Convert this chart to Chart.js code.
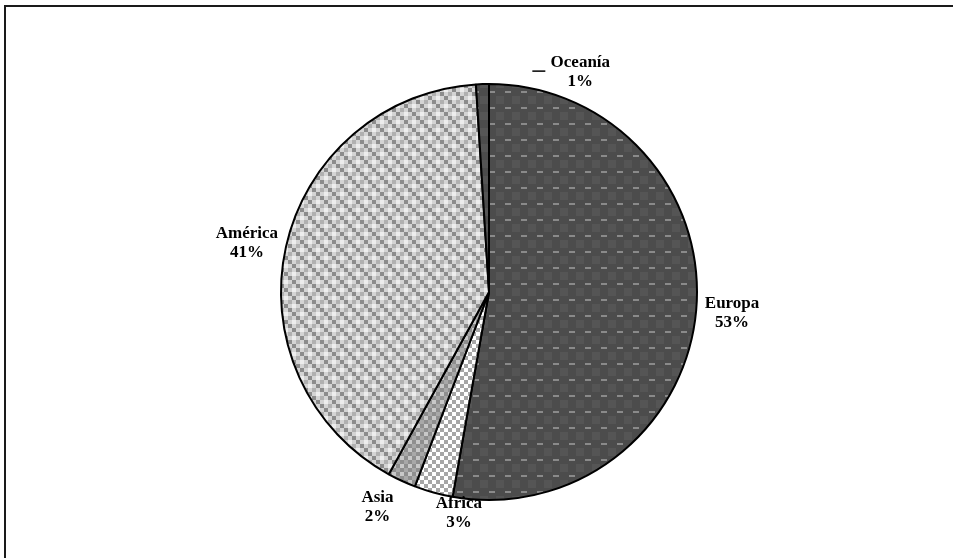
<!DOCTYPE html>
<html><head><meta charset="utf-8">
<script src="https://cdn.jsdelivr.net/npm/chart.js@4.4.0/dist/chart.umd.min.js"></script>
<style>
html,body{margin:0;padding:0;background:#fff;width:953px;height:558px;overflow:hidden;}
#frame{position:absolute;left:4px;top:5px;width:1000px;height:600px;border-left:2px solid #1a1a1a;border-top:2px solid #1a1a1a;}
canvas{position:absolute;left:0;top:0;}
</style></head><body>
<div id="frame"></div>
<canvas id="c" width="953" height="558"></canvas>
<script>
// ---- data ----
const categories = ['Europa', 'Africa', 'Asia', 'América', 'Oceanía'];
const shares = [52.8, 3.0, 2.2, 41.0, 1.0];

// ---- label layout (style) ----
const labelGap = 36;
const labelNudgeX = [0, 35, -9, -4, 99];
const labelNudgeY = [0, -14, -6, 4, 24];

function tile(size, draw) {
  const c = document.createElement('canvas');
  c.width = size; c.height = size;
  const g = c.getContext('2d');
  draw(g);
  return document.getElementById('c').getContext('2d').createPattern(c, 'repeat');
}
function cells(g, grid, colors, cs) {
  for (let r = 0; r < grid.length; r++)
    for (let k = 0; k < grid[r].length; k++) {
      g.fillStyle = colors[grid[r][k]];
      g.fillRect(k * cs, r * cs, cs, cs);
    }
}
const patEuropa = tile(16, g => {
  g.fillStyle = '#4c4c4c'; g.fillRect(0, 0, 16, 16);
  g.fillStyle = '#555555'; g.fillRect(0, 0, 8, 8);
  g.fillStyle = '#8a8a8a'; g.fillRect(9, 11, 6, 2);
});
const patAmerica = tile(16, g => cells(g, [
  [0, 1, 0, 3],
  [3, 0, 2, 0],
  [0, 3, 0, 1],
  [2, 0, 3, 0]
], ['#d4d4d4', '#ededed', '#b0b0b0', '#8c8c8c'], 4));
const patAfrica = tile(8, g => cells(g, [
  [0, 1],
  [1, 0]
], ['#ffffff', '#a6a6a6'], 4));
const patAsia = tile(8, g => cells(g, [
  [0, 1],
  [1, 2]
], ['#c8c8c8', '#8e8e8e', '#a8a8a8'], 4));
const patOceania = patEuropa;

const labelPlugin = {
  id: 'pieLabels',
  afterDatasetsDraw(chart) {
    const ctx = chart.ctx;
    const meta = chart.getDatasetMeta(0);
    ctx.save();
    ctx.font = 'bold 17px "Liberation Serif", "Times New Roman", serif';
    ctx.fillStyle = '#000';
    ctx.textAlign = 'center';
    ctx.textBaseline = 'middle';
    meta.data.forEach((arc, i) => {
      const p = arc.getProps(['x', 'y', 'startAngle', 'endAngle', 'outerRadius'], true);
      const mid = (p.startAngle + p.endAngle) / 2;
      const ax = p.x + Math.cos(mid) * (p.outerRadius + labelGap) + labelNudgeX[i];
      const ay = p.y + Math.sin(mid) * (p.outerRadius + labelGap) + labelNudgeY[i];
      ctx.fillText(categories[i], ax, ay - 9.5);
      ctx.fillText(Math.round(shares[i]) + '%', ax, ay + 9.5);
      if (shares[i] < 1.5) {
        ctx.strokeStyle = '#000';
        ctx.lineWidth = 1.5;
        ctx.beginPath();
        ctx.moveTo(ax - 48, ay - 1);
        ctx.lineTo(ax - 35, ay - 1);
        ctx.stroke();
      }
    });
    ctx.restore();
  }
};

new Chart(document.getElementById('c'), {
  type: 'pie',
  data: {
    labels: categories,
    datasets: [{
      data: shares,
      backgroundColor: [patEuropa, patAfrica, patAsia, patAmerica, patOceania],
      borderColor: '#000',
      borderWidth: 2
    }]
  },
  options: {
    responsive: false,
    animation: false,
    layout: { padding: { left: 80, right: 55, top: 83, bottom: 57 } },
    plugins: { legend: { display: false }, tooltip: { enabled: false } }
  },
  plugins: [labelPlugin]
});
</script>
</body></html>
